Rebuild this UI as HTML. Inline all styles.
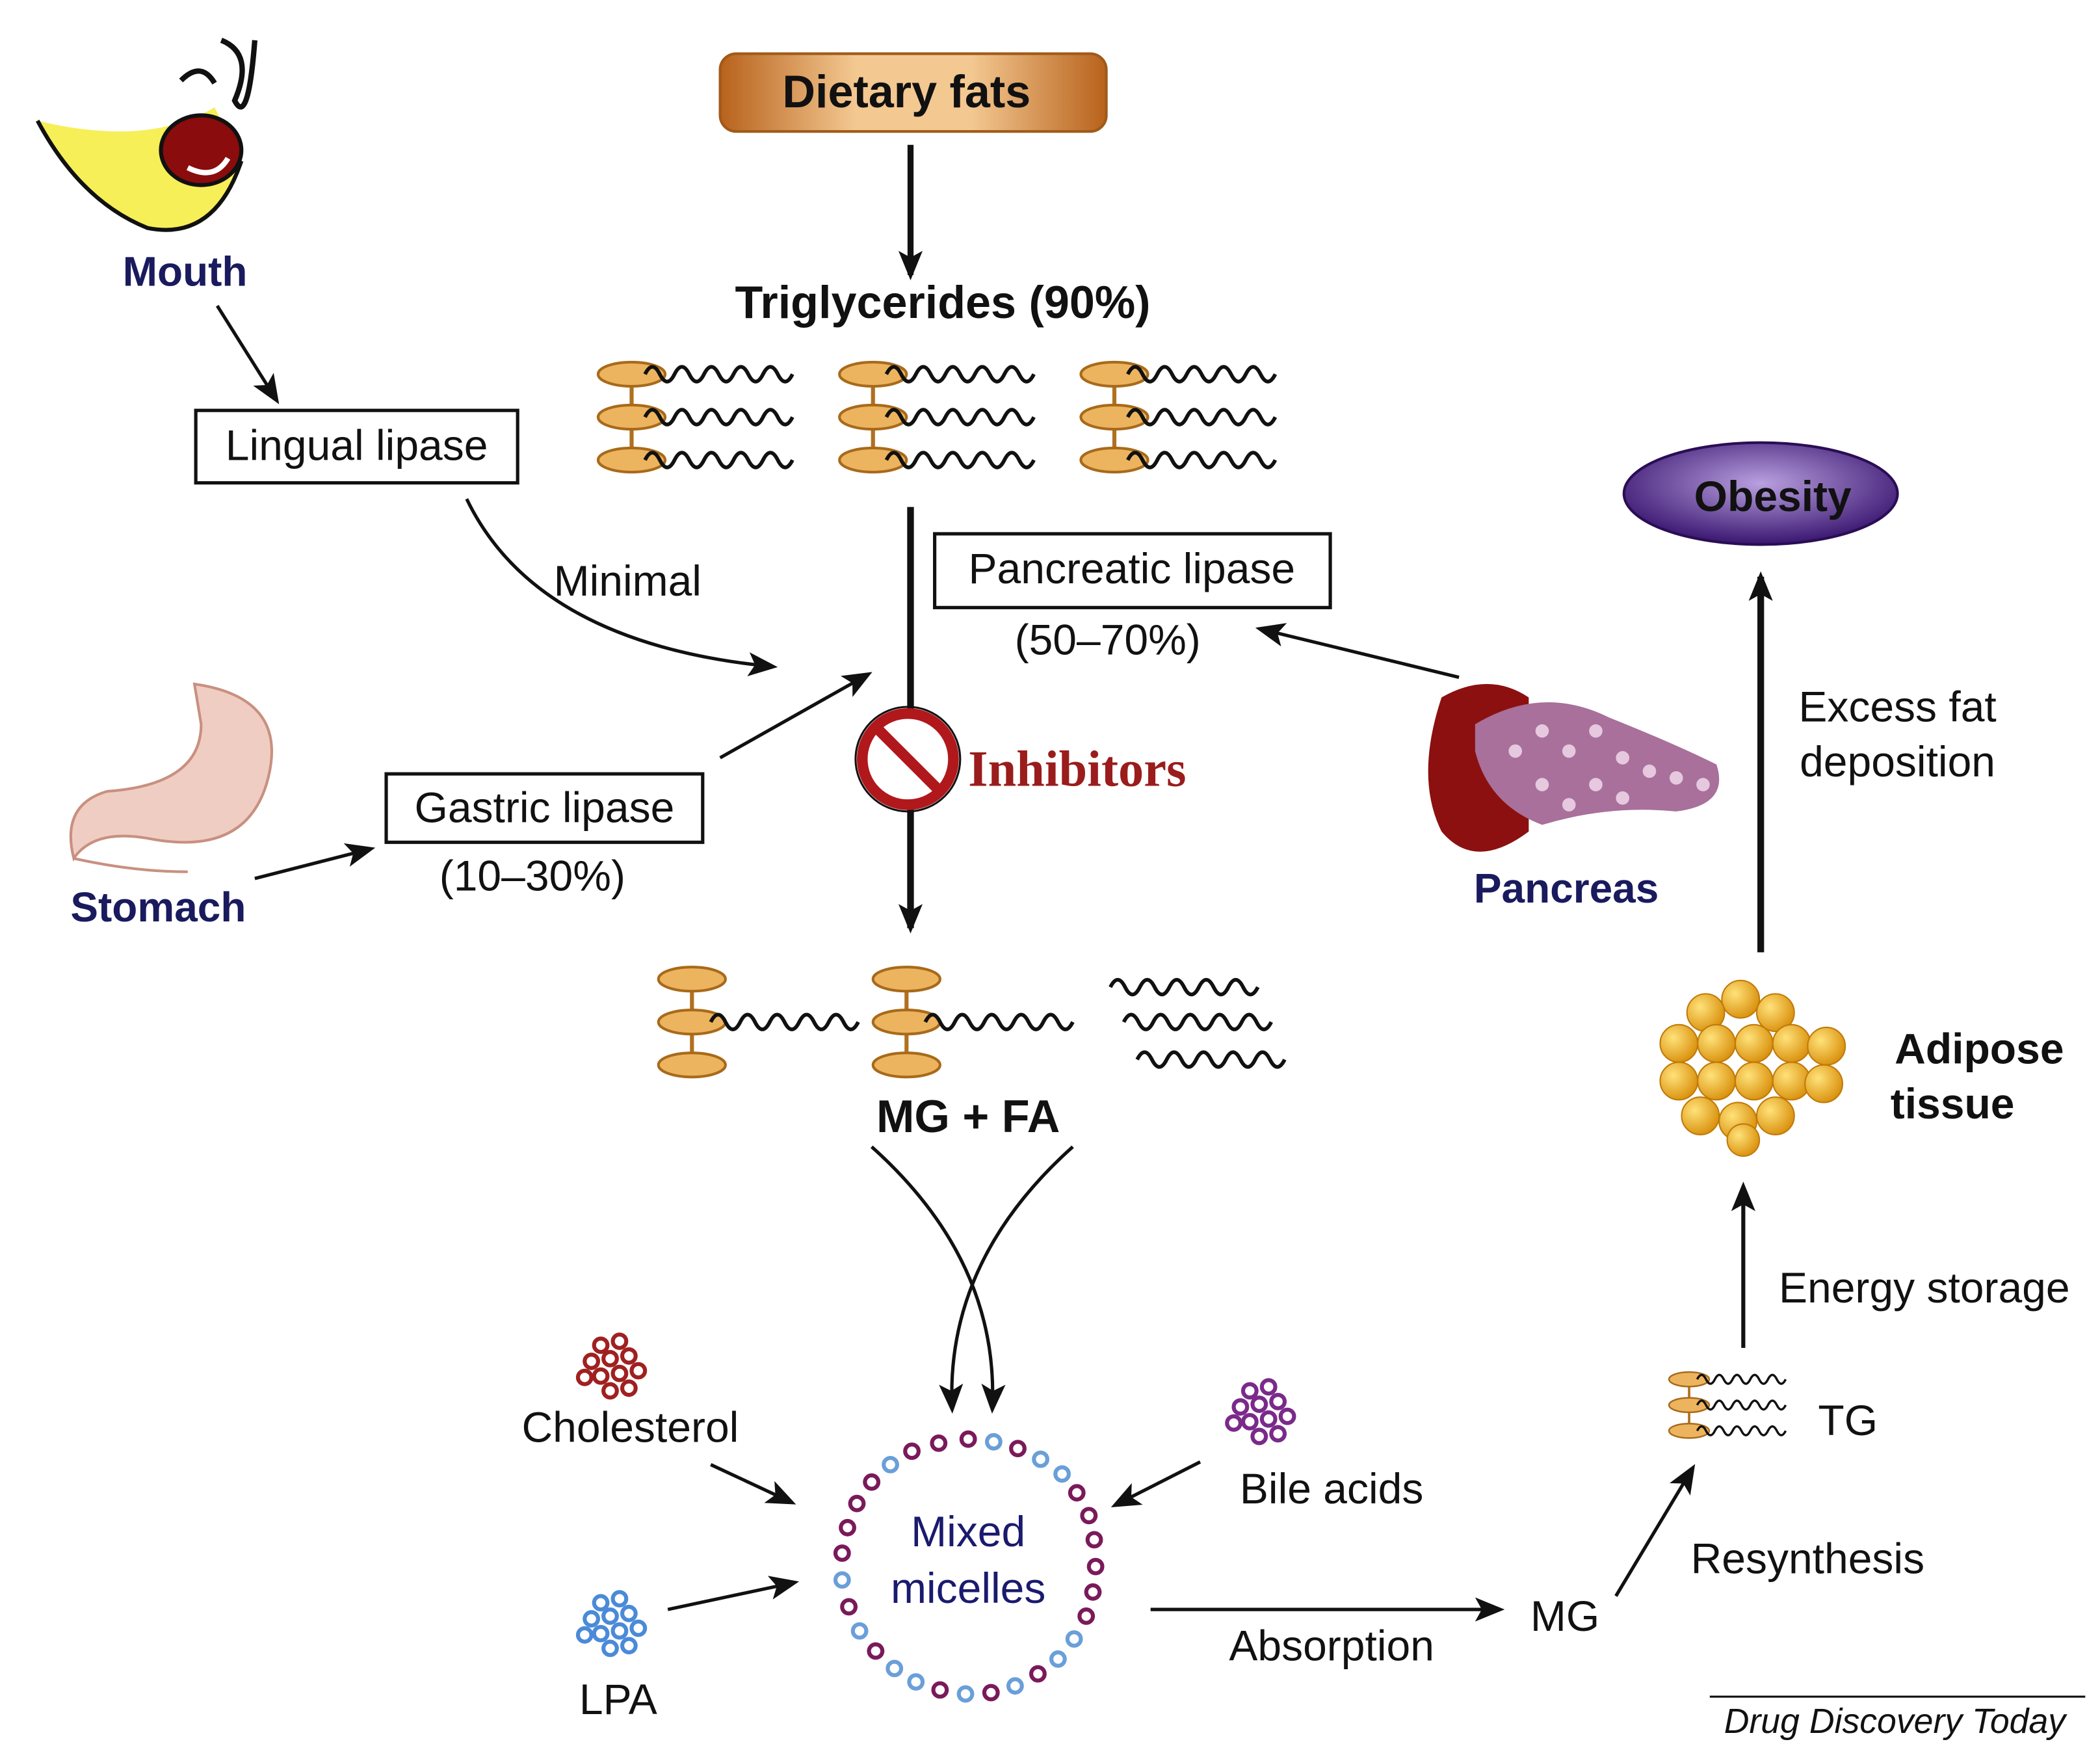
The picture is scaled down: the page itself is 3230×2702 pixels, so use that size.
<!DOCTYPE html>
<html><head><meta charset="utf-8"><style>
html,body{margin:0;padding:0;background:#fff;}
svg{display:block;}
text{font-family:"Liberation Sans",sans-serif;}
</style></head><body>
<svg width="3230" height="2702" viewBox="0 0 1566 1310" preserveAspectRatio="none" xmlns="http://www.w3.org/2000/svg">
<defs>
<linearGradient id="gOr" x1="0" y1="0" x2="1" y2="0">
<stop offset="0" stop-color="#b8621c"/><stop offset="0.35" stop-color="#f3c891"/><stop offset="0.65" stop-color="#f3c891"/><stop offset="1" stop-color="#b8621c"/></linearGradient>
<radialGradient id="gOb" cx="0.5" cy="0.4" r="0.6"><stop offset="0" stop-color="#b9a0e0"/><stop offset="1" stop-color="#3a1670"/></radialGradient>
<radialGradient id="gBall" cx="0.35" cy="0.35" r="0.7"><stop offset="0" stop-color="#ffe27a"/><stop offset="1" stop-color="#d9900c"/></radialGradient>
<marker id="ahb" markerWidth="22" markerHeight="22" refX="18" refY="11" orient="auto" markerUnits="userSpaceOnUse" viewBox="0 0 22 22">
<path d="M0,2 L22,11 L0,20 L5,11 z" fill="#111"/></marker>
<path id="wave" d="M0,0 q5.5,-11 11,0 t11,0 t11,0 t11,0 t11,0 t11,0 t11,0 t11,0 t11,0 t11,0" fill="none" stroke="#111" stroke-width="2.8"/>
<g id="tg">
<line x1="26" y1="14" x2="26" y2="78" stroke="#b07020" stroke-width="3"/>
<ellipse cx="26" cy="14" rx="25" ry="9" fill="#edb45f" stroke="#a86a1a" stroke-width="2"/>
<ellipse cx="26" cy="46" rx="25" ry="9" fill="#edb45f" stroke="#a86a1a" stroke-width="2"/>
<ellipse cx="26" cy="78" rx="25" ry="9" fill="#edb45f" stroke="#a86a1a" stroke-width="2"/>
<use href="#wave" x="36" y="14"/><use href="#wave" x="36" y="46"/><use href="#wave" x="36" y="78"/>
</g>
<g id="mg">
<line x1="26" y1="14" x2="26" y2="78" stroke="#b07020" stroke-width="3"/>
<ellipse cx="26" cy="14" rx="25" ry="9" fill="#edb45f" stroke="#a86a1a" stroke-width="2"/>
<ellipse cx="26" cy="46" rx="25" ry="9" fill="#edb45f" stroke="#a86a1a" stroke-width="2"/>
<ellipse cx="26" cy="78" rx="25" ry="9" fill="#edb45f" stroke="#a86a1a" stroke-width="2"/>
<use href="#wave" x="40" y="46"/>
</g>
</defs>

<rect x="537" y="40" width="288" height="58" rx="12" fill="url(#gOr)" stroke="#a05a18" stroke-width="2"/>
<text x="676" y="80" font-size="34" font-weight="bold" text-anchor="middle" fill="#111">Dietary fats</text>
<line x1="679" y1="108" x2="679" y2="205" stroke="#111" stroke-width="4.5" marker-end="url(#ahb)"/>
<text x="703" y="237" font-size="34" font-weight="bold" text-anchor="middle" fill="#111">Triglycerides (90%)</text>
<use href="#tg" x="445" y="265"/><use href="#tg" x="625" y="265"/><use href="#tg" x="805" y="265"/>

<line x1="679" y1="378" x2="679" y2="692" stroke="#111" stroke-width="5" marker-end="url(#ahb)"/>
<rect x="697" y="398" width="295" height="55" fill="#fff" stroke="#111" stroke-width="2.5"/>
<text x="844" y="435" font-size="32" text-anchor="middle" fill="#111">Pancreatic lipase</text>
<text x="826" y="488" font-size="32" text-anchor="middle" fill="#111">(50–70%)</text>
<circle cx="677" cy="566" r="34" fill="#fff" stroke="#b0181c" stroke-width="8"/>
<line x1="654" y1="543" x2="700" y2="589" stroke="#b0181c" stroke-width="8"/>
<circle cx="677" cy="566" r="39" fill="none" stroke="#111" stroke-width="1.5"/>
<text x="722" y="586" font-size="38" font-weight="bold" style="font-family:'Liberation Serif',serif" fill="#9a1c1c">Inhibitors</text>

<path d="M28,90 Q60,150 110,170 Q160,180 180,120 L160,80 Q110,110 28,90 z" fill="#f6ef58"/>
<path d="M28,90 Q60,150 110,170 Q160,180 180,120" fill="none" stroke="#111" stroke-width="3"/>
<ellipse cx="150" cy="112" rx="30" ry="26" fill="#8a0c0c" stroke="#111" stroke-width="3"/>
<path d="M140,125 Q160,135 170,118" fill="none" stroke="#fff" stroke-width="4"/>
<path d="M135,60 Q150,45 160,62 M165,30 Q190,40 175,75 Q185,95 190,30" fill="none" stroke="#111" stroke-width="4"/>
<text x="138" y="213" font-size="31" font-weight="bold" text-anchor="middle" fill="#1a1a5e">Mouth</text>
<line x1="162" y1="228" x2="206" y2="298" stroke="#111" stroke-width="2.5" marker-end="url(#ahb)"/>
<rect x="146" y="306" width="240" height="54" fill="#fff" stroke="#111" stroke-width="2.5"/>
<text x="266" y="343" font-size="32" text-anchor="middle" fill="#111">Lingual lipase</text>
<path d="M348,372 Q400,480 576,497" fill="none" stroke="#111" stroke-width="2.5" marker-end="url(#ahb)"/>
<text x="468" y="444" font-size="32" text-anchor="middle" fill="#111">Minimal</text>

<path d="M145,510 Q215,520 200,580 Q185,640 110,625 Q70,618 55,640 Q45,600 80,590 Q150,585 150,540 z" fill="#f0cdc2" stroke="#c89080" stroke-width="2"/>
<path d="M55,640 Q100,650 140,650" fill="none" stroke="#c89080" stroke-width="2"/>
<text x="118" y="687" font-size="31" font-weight="bold" text-anchor="middle" fill="#1a1a5e">Stomach</text>
<line x1="190" y1="655" x2="276" y2="633" stroke="#111" stroke-width="2.5" marker-end="url(#ahb)"/>
<rect x="288" y="577" width="236" height="51" fill="#fff" stroke="#111" stroke-width="2.5"/>
<text x="406" y="613" font-size="32" text-anchor="middle" fill="#111">Gastric lipase</text>
<text x="397" y="664" font-size="32" text-anchor="middle" fill="#111">(10–30%)</text>
<line x1="537" y1="565" x2="647" y2="503" stroke="#111" stroke-width="2.5" marker-end="url(#ahb)"/>

<path d="M1075,520 Q1110,500 1140,520 L1140,620 Q1100,650 1075,620 Q1055,580 1075,520 z" fill="#8c1010"/>
<path d="M1100,540 Q1150,510 1200,535 Q1250,555 1280,570 Q1290,600 1250,605 Q1200,600 1150,615 Q1110,600 1100,560 z" fill="#a8709a"/>
<g fill="#e6c8df">
<circle cx="1130" cy="560" r="5"/><circle cx="1150" cy="545" r="5"/><circle cx="1170" cy="560" r="5"/><circle cx="1190" cy="545" r="5"/><circle cx="1210" cy="565" r="5"/><circle cx="1230" cy="575" r="5"/><circle cx="1250" cy="580" r="5"/><circle cx="1150" cy="585" r="5"/><circle cx="1190" cy="585" r="5"/><circle cx="1270" cy="585" r="5"/><circle cx="1170" cy="600" r="5"/><circle cx="1210" cy="595" r="5"/></g>
<text x="1168" y="673" font-size="31" font-weight="bold" text-anchor="middle" fill="#1a1a5e">Pancreas</text>
<line x1="1088" y1="505" x2="940" y2="469" stroke="#111" stroke-width="2.5" marker-end="url(#ahb)"/>

<ellipse cx="1313" cy="368" rx="102" ry="38" fill="url(#gOb)" stroke="#2a0e55" stroke-width="2"/>
<text x="1322" y="381" font-size="32" font-weight="bold" text-anchor="middle" fill="#111">Obesity</text>
<line x1="1313" y1="710" x2="1313" y2="430" stroke="#111" stroke-width="5" marker-end="url(#ahb)"/>
<text x="1415" y="538" font-size="32" text-anchor="middle" fill="#111">Excess fat</text>
<text x="1415" y="579" font-size="32" text-anchor="middle" fill="#111">deposition</text>

<g fill="url(#gBall)" stroke="#c07a08" stroke-width="1">
<circle cx="1298" cy="745" r="14"/><circle cx="1272" cy="755" r="14"/><circle cx="1324" cy="755" r="14"/>
<circle cx="1252" cy="778" r="14"/><circle cx="1280" cy="778" r="14"/><circle cx="1308" cy="778" r="14"/><circle cx="1336" cy="778" r="14"/><circle cx="1362" cy="780" r="14"/>
<circle cx="1252" cy="806" r="14"/><circle cx="1280" cy="806" r="14"/><circle cx="1308" cy="806" r="14"/><circle cx="1336" cy="806" r="14"/><circle cx="1360" cy="808" r="14"/>
<circle cx="1268" cy="832" r="14"/><circle cx="1296" cy="836" r="14"/><circle cx="1324" cy="832" r="14"/><circle cx="1300" cy="850" r="12"/></g>
<text x="1476" y="793" font-size="32" font-weight="bold" text-anchor="middle" fill="#111">Adipose</text>
<text x="1456" y="834" font-size="32" font-weight="bold" text-anchor="middle" fill="#111">tissue</text>
<line x1="1300" y1="1005" x2="1300" y2="885" stroke="#111" stroke-width="3" marker-end="url(#ahb)"/>
<text x="1435" y="971" font-size="32" text-anchor="middle" fill="#111">Energy storage</text>
<g transform="translate(1244,1020) scale(0.6)"><use href="#tg"/></g>
<text x="1378" y="1070" font-size="32" text-anchor="middle" fill="#111">TG</text>
<line x1="1205" y1="1190" x2="1262" y2="1095" stroke="#111" stroke-width="2.5" marker-end="url(#ahb)"/>
<text x="1348" y="1173" font-size="32" text-anchor="middle" fill="#111">Resynthesis</text>
<text x="1167" y="1216" font-size="32" text-anchor="middle" fill="#111">MG</text>
<line x1="858" y1="1200" x2="1118" y2="1200" stroke="#111" stroke-width="2.5" marker-end="url(#ahb)"/>
<text x="993" y="1238" font-size="32" text-anchor="middle" fill="#111">Absorption</text>

<use href="#mg" x="490" y="716"/><use href="#mg" x="650" y="716"/>
<use href="#wave" x="828" y="736"/><use href="#wave" x="838" y="762"/><use href="#wave" x="848" y="790"/>
<text x="722" y="844" font-size="34" font-weight="bold" text-anchor="middle" fill="#111">MG  + FA</text>
<path d="M650,855 Q745,940 740,1050" fill="none" stroke="#111" stroke-width="2.5" marker-end="url(#ahb)"/>
<path d="M800,855 Q705,940 710,1050" fill="none" stroke="#111" stroke-width="2.5" marker-end="url(#ahb)"/>

<g fill="#fff" stroke-width="3">
<circle cx="722" cy="1073" r="5" stroke="#7a1a5a"/><circle cx="741" cy="1075" r="5" stroke="#6a9fd8"/><circle cx="759" cy="1080" r="5" stroke="#7a1a5a"/><circle cx="776" cy="1088" r="5" stroke="#6a9fd8"/><circle cx="792" cy="1099" r="5" stroke="#6a9fd8"/><circle cx="803" cy="1113" r="5" stroke="#7a1a5a"/><circle cx="812" cy="1130" r="5" stroke="#7a1a5a"/><circle cx="816" cy="1148" r="5" stroke="#7a1a5a"/><circle cx="817" cy="1168" r="5" stroke="#7a1a5a"/><circle cx="815" cy="1187" r="5" stroke="#7a1a5a"/><circle cx="810" cy="1205" r="5" stroke="#7a1a5a"/><circle cx="801" cy="1222" r="5" stroke="#6a9fd8"/><circle cx="789" cy="1237" r="5" stroke="#6a9fd8"/><circle cx="774" cy="1248" r="5" stroke="#7a1a5a"/><circle cx="757" cy="1257" r="5" stroke="#6a9fd8"/><circle cx="739" cy="1262" r="5" stroke="#7a1a5a"/><circle cx="720" cy="1263" r="5" stroke="#6a9fd8"/><circle cx="701" cy="1260" r="5" stroke="#7a1a5a"/><circle cx="683" cy="1254" r="5" stroke="#6a9fd8"/><circle cx="667" cy="1244" r="5" stroke="#6a9fd8"/><circle cx="653" cy="1231" r="5" stroke="#7a1a5a"/><circle cx="641" cy="1216" r="5" stroke="#6a9fd8"/><circle cx="633" cy="1198" r="5" stroke="#7a1a5a"/><circle cx="628" cy="1178" r="5" stroke="#6a9fd8"/><circle cx="628" cy="1158" r="5" stroke="#7a1a5a"/><circle cx="632" cy="1139" r="5" stroke="#7a1a5a"/><circle cx="639" cy="1121" r="5" stroke="#7a1a5a"/><circle cx="650" cy="1105" r="5" stroke="#7a1a5a"/><circle cx="664" cy="1092" r="5" stroke="#6a9fd8"/><circle cx="680" cy="1082" r="5" stroke="#7a1a5a"/><circle cx="700" cy="1076" r="5" stroke="#7a1a5a"/></g>
<text x="722" y="1153" font-size="32" text-anchor="middle" fill="#1a1a6e">Mixed</text>
<text x="722" y="1195" font-size="32" text-anchor="middle" fill="#1a1a6e">micelles</text>

<g fill="#fff" stroke="#a02020" stroke-width="3">
<circle cx="448" cy="1003" r="5"/><circle cx="462" cy="1000" r="5"/><circle cx="441" cy="1015" r="5"/><circle cx="455" cy="1013" r="5"/><circle cx="469" cy="1011" r="5"/><circle cx="448" cy="1026" r="5"/><circle cx="462" cy="1024" r="5"/><circle cx="476" cy="1022" r="5"/><circle cx="455" cy="1037" r="5"/><circle cx="469" cy="1035" r="5"/><circle cx="436" cy="1027" r="5"/></g>
<text x="470" y="1075" font-size="32" text-anchor="middle" fill="#111">Cholesterol</text>
<line x1="530" y1="1092" x2="590" y2="1120" stroke="#111" stroke-width="2.5" marker-end="url(#ahb)"/>
<g fill="#fff" stroke="#4a8ad8" stroke-width="3">
<circle cx="448" cy="1195" r="5"/><circle cx="462" cy="1192" r="5"/><circle cx="441" cy="1207" r="5"/><circle cx="455" cy="1205" r="5"/><circle cx="469" cy="1203" r="5"/><circle cx="448" cy="1218" r="5"/><circle cx="462" cy="1216" r="5"/><circle cx="476" cy="1214" r="5"/><circle cx="455" cy="1229" r="5"/><circle cx="469" cy="1227" r="5"/><circle cx="436" cy="1219" r="5"/></g>
<text x="461" y="1278" font-size="32" text-anchor="middle" fill="#111">LPA</text>
<line x1="498" y1="1200" x2="592" y2="1180" stroke="#111" stroke-width="2.5" marker-end="url(#ahb)"/>
<g fill="#fff" stroke="#7a2a8a" stroke-width="3">
<circle cx="932" cy="1037" r="5"/><circle cx="946" cy="1034" r="5"/><circle cx="925" cy="1049" r="5"/><circle cx="939" cy="1047" r="5"/><circle cx="953" cy="1045" r="5"/><circle cx="932" cy="1060" r="5"/><circle cx="946" cy="1058" r="5"/><circle cx="960" cy="1056" r="5"/><circle cx="939" cy="1071" r="5"/><circle cx="953" cy="1069" r="5"/><circle cx="920" cy="1061" r="5"/></g>
<text x="993" y="1121" font-size="32" text-anchor="middle" fill="#111">Bile acids</text>
<line x1="895" y1="1090" x2="832" y2="1122" stroke="#111" stroke-width="2.5" marker-end="url(#ahb)"/>

<line x1="1275" y1="1265" x2="1555" y2="1265" stroke="#111" stroke-width="1.5"/>
<text x="1413" y="1292" font-size="26" font-style="italic" text-anchor="middle" fill="#111">Drug Discovery Today</text>
</svg>
</body></html>
